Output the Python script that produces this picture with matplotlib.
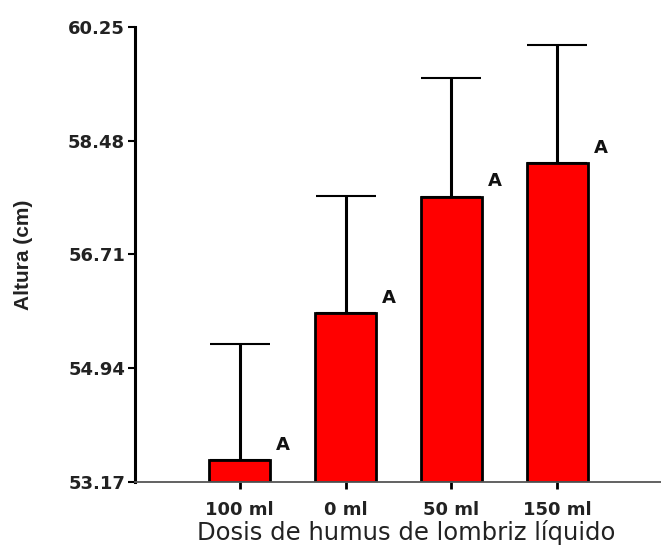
import matplotlib
matplotlib.use("Agg")
import matplotlib.pyplot as plt
import numpy as np

categories = ["100 ml", "0 ml", "50 ml", "150 ml"]
means = [53.51, 55.79, 57.61, 58.13]
upper_err = [1.80, 1.83, 1.84, 1.84]
letters = ["A", "A", "A", "A"]
yticks = [53.17, 54.94, 56.71, 58.48, 60.25]
ymin, ymax = 53.17, 60.25

plt.rcParams['font.family'] = ['DejaVu Sans']

fig = plt.figure(figsize=(6.61, 5.5), dpi=100)
ax = fig.add_axes([0.204, 0.124, 0.796, 0.827])

x = np.arange(len(categories))
heights = [m - ymin for m in means]
ax.bar(x, heights, bottom=ymin, width=0.58, color="#ff0000",
       edgecolor="black", linewidth=2, zorder=2)
ax.errorbar(x, means, yerr=[np.zeros(len(means)), upper_err], fmt="none",
            ecolor="black", elinewidth=2.2, capsize=21.5, capthick=1.5, zorder=1)
for xi, m, l in zip(x, means, letters):
    ax.text(xi + 0.41, m + 0.24, l, ha="center", va="center",
            fontsize=13, fontweight="bold", color="#111111")

ax.set_xlim(-0.99, 3.98)
ax.set_ylim(ymin, ymax)
ax.set_yticks(yticks)
ax.set_yticklabels([f"{t:.2f}" for t in yticks], fontsize=13, fontweight="bold", color="#222222")
ax.set_xticks(x)
ax.set_xticklabels(categories, fontsize=13, fontweight="bold", color="#222222")

for s in ["top", "right"]:
    ax.spines[s].set_visible(False)
ax.spines["left"].set_linewidth(2.2)
ax.spines["bottom"].set_linewidth(1.3)
ax.spines["bottom"].set_color("#555555")
ax.tick_params(axis="y", direction="out", length=5, width=1.5, pad=2)
ax.tick_params(axis="x", direction="out", length=5, width=2, pad=9)

ax.set_xlabel("Dosis de humus de lombriz líquido", fontsize=17.5, color="#222222")
ax.xaxis.set_label_coords(0.515, -0.085)
ax.set_ylabel("Altura (cm)", fontsize=15, fontweight="bold", color="#222222",
              family=["Liberation Sans"])
ax.yaxis.set_label_coords(-0.194, 0.50)

fig.savefig("out.png", dpi=100)
